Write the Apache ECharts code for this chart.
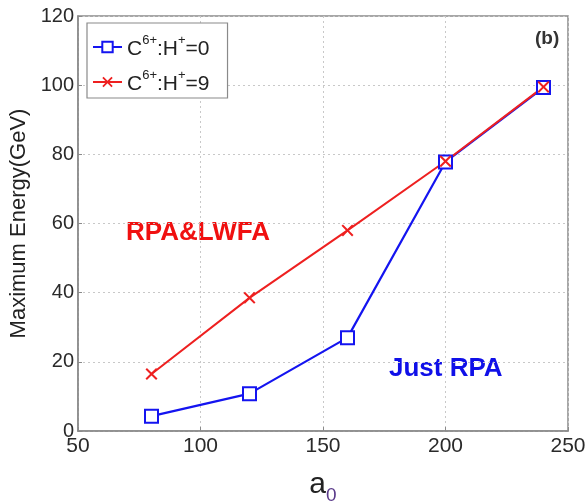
<!DOCTYPE html>
<html>
<head>
<meta charset="utf-8">
<script src="https://cdn.jsdelivr.net/npm/echarts@6/dist/echarts.min.js"></script>
<style>
html,body{margin:0;padding:0;background:#fff;}
#main{width:588px;height:501px;}
</style>
</head>
<body>
<div id="main"></div>
<script>
var a0Values = [80, 120, 160, 200, 240];
var energyH0 = [4.3, 10.8, 27, 77.8, 99.3];
var energyH9 = [16.5, 38.5, 58, 78, 99.5];
var seriesNames = ['C6+:H+=0', 'C6+:H+=9'];
var xTicks = [50, 100, 150, 200, 250];
var yTicks = [0, 20, 40, 60, 80, 100, 120];

function pairs(xs, ys) { return xs.map(function (x, i) { return [x, ys[i]]; }); }

var crossPath = 'path://M0,1.2L1.2,0L5,3.8L8.8,0L10,1.2L6.2,5L10,8.8L8.8,10L5,6.2L1.2,10L0,8.8L3.8,5Z';

var chart = echarts.init(document.getElementById('main'), null, {renderer: 'canvas'});
var font = 'Arial, "Liberation Sans", sans-serif';

chart.setOption({
  backgroundColor: '#ffffff',
  animation: false,
  grid: {left: 78, right: 20, top: 16, bottom: 70, show: true, borderColor: '#8a8a8a', borderWidth: 1.5, backgroundColor: 'transparent', containLabel: false, outerBoundsMode: 'none'},
  xAxis: {
    type: 'value', min: xTicks[0], max: xTicks[xTicks.length - 1], interval: 50,
    name: '{a|a}{s|0}', nameLocation: 'middle', nameGap: 39,
    nameTextStyle: {rich: {
      a: {fontSize: 30, fontFamily: font, color: '#222', lineHeight: 30, verticalAlign: 'bottom'},
      s: {fontSize: 19, fontFamily: font, color: '#5a3a8a', lineHeight: 30, verticalAlign: 'bottom', padding: [0, 0, -5, 0]}
    }},
    axisLine: {show: true, lineStyle: {color: '#8a8a8a', width: 1.5}},
    axisTick: {show: true, inside: true, length: 4, lineStyle: {color: '#8a8a8a'}},
    axisLabel: {fontSize: 21, color: '#2a2a2a', fontFamily: font, margin: 5},
    splitLine: {show: true, lineStyle: {color: '#c8c8c8', type: [2, 3], width: 1}}
  },
  yAxis: {
    type: 'value', min: yTicks[0], max: yTicks[yTicks.length - 1], interval: 20,
    name: 'Maximum Energy(GeV)', nameLocation: 'middle', nameGap: 40,
    nameTextStyle: {fontSize: 22, color: '#222', fontFamily: font},
    axisLine: {show: true, lineStyle: {color: '#8a8a8a', width: 1.5}},
    axisTick: {show: true, inside: true, length: 4, lineStyle: {color: '#8a8a8a'}},
    axisLabel: {fontSize: 20, color: '#2a2a2a', fontFamily: font, margin: 4},
    splitLine: {show: true, lineStyle: {color: '#c8c8c8', type: [2, 3], width: 1}}
  },
  legend: {
    orient: 'vertical', left: 87, top: 23,
    padding: [11, 18, 3, 5], itemGap: 9, itemWidth: 29, itemHeight: 13,
    backgroundColor: '#fff', borderColor: '#8a8a8a', borderWidth: 1.2,
    data: seriesNames,
    formatter: function (n) {
      return n === seriesNames[0] ? '{b|C}{s|6+}{b|:H}{s|+}{b|=0}' : '{b|C}{s|6+}{b|:H}{s|+}{b|=9}';
    },
    textStyle: {
      rich: {
        b: {fontSize: 21, fontFamily: font, color: '#222', lineHeight: 26, verticalAlign: 'bottom'},
        s: {fontSize: 13, fontFamily: font, color: '#222', lineHeight: 13, verticalAlign: 'top'}
      }
    }
  },
  series: [
    {
      name: seriesNames[0], type: 'line', data: pairs(a0Values, energyH0),
      symbol: 'emptyRect', symbolSize: 13,
      lineStyle: {color: '#1414f0', width: 2.2},
      itemStyle: {color: '#1414f0', borderWidth: 2.2}
    },
    {
      name: seriesNames[1], type: 'line', data: pairs(a0Values, energyH9),
      symbol: crossPath, symbolSize: 12,
      lineStyle: {color: '#ee2020', width: 2},
      itemStyle: {color: '#ee2020'}
    }
  ],
  graphic: [
    {type: 'text', left: 535, top: 29, style: {text: '(b)', font: 'bold 19px Arial, "Liberation Sans", sans-serif', fill: '#333'}},
    {type: 'text', left: 126, top: 220, style: {text: 'RPA&LWFA', font: 'bold 26px Arial, "Liberation Sans", sans-serif', fill: '#f01010'}},
    {type: 'text', left: 389, top: 356, style: {text: 'Just RPA', font: 'bold 26px Arial, "Liberation Sans", sans-serif', fill: '#1010e8'}}
  ]
});
</script>
</body>
</html>
